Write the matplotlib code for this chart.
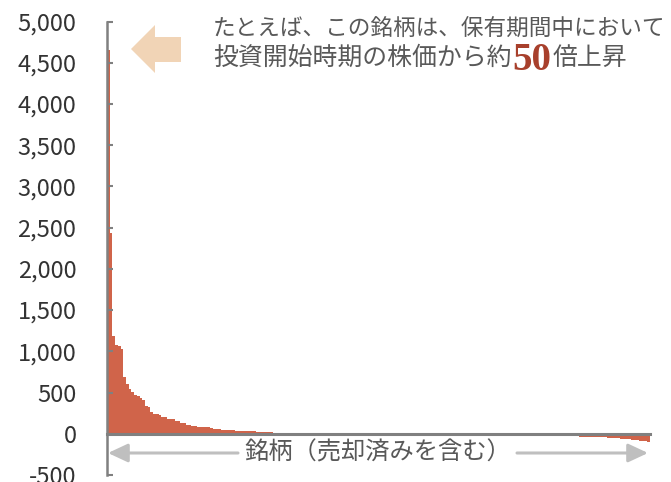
import matplotlib
matplotlib.use("Agg")
import matplotlib.pyplot as plt
from matplotlib.patches import Polygon

plt.rcParams['font.family'] = ['Noto Sans CJK JP', 'DejaVu Sans']

# return (%) of each stock since purchase, sorted from best to worst
returns = [
    4660, 2437, 1183, 1074, 1062, 1025, 690, 609, 548, 507,
    475, 462, 439, 407, 334, 330, 265, 245, 237, 232,
    204, 200, 184, 178, 174, 155, 152, 136, 133, 112,
    110, 92, 90, 88, 80, 79, 78, 77, 64, 63,
    62, 52, 51, 51, 50, 50, 40, 39, 39, 38,
    31, 30, 30, 29, 29, 23, 22, 22, 21, 21,
    16, 15, 15, 14, 14, 11, 10, 10, 9, 9,
    8, 8, 7, 7, 6, 6, 6, 6, 5, 5,
    5, 5, 5, 4, 4, 4, 4, 4, 4, 3,
    3, 3, 3, 3, 3, 3, 3, 3, 2, 2,
    2, 2, 2, 2, 2, 2, 2, 2, 2, 2,
    1, 1, 1, 1, 1, 1, 1, 1, 1, 1,
    1, 1, 1, 1, 1, 1, 1, 1, 1, 1,
    0, 0, 0, 0, 0, 0, 0, 0, 0, 0,
    0, 0, 0, 0, 0, 0, 0, 0, -1, -1,
    -1, -1, -2, -2, -2, -3, -3, -4, -4, -5,
    -5, -6, -7, -8, -9, -10, -12, -14, -16, -20,
    -24, -27, -30, -32, -34, -35, -36, -37, -38, -39,
    -40, -41, -42, -44, -46, -48, -50, -53, -56, -59,
    -62, -64, -67, -70, -74, -78, -82, -87, -93, -100,
]
ytick_values = [-500, 0, 500, 1000, 1500, 2000, 2500, 3000, 3500, 4000, 4500, 5000]
ytick_labels = ['-500', '0', '500', '1,000', '1,500', '2,000', '2,500',
                '3,000', '3,500', '4,000', '4,500', '5,000']
note_line1 = 'たとえば、この銘柄は、保有期間中において'
note_line2 = '投資開始時期の株価から約'
note_times = '50'
note_tail = '倍上昇'
xlabel = '銘柄（売却済みを含む）'

W, H = 671, 482
fig = plt.figure(figsize=(W / 100, H / 100), dpi=100)
ax = fig.add_axes([107 / W, 7 / H, 543 / W, 453.5 / H])

bar_color = '#D0644A'
axis_gray = '#808080'
text_gray = '#595959'

ax.bar(range(len(returns)), returns, width=1.0, color=bar_color, linewidth=0, zorder=1)
ax.set_xlim(-0.5, len(returns) - 0.5)
ax.set_ylim(-500, 5000)

ax.set_yticks(ytick_values)
ax.set_yticklabels(ytick_labels)
ax.tick_params(axis='y', direction='in', length=4, width=1.5, color=axis_gray,
               labelcolor='#333333', labelsize=17, pad=22)
ax.tick_params(axis='x', bottom=False, labelbottom=False)

for side in ['top', 'right']:
    ax.spines[side].set_visible(False)
ax.spines['left'].set_color(axis_gray)
ax.spines['left'].set_linewidth(1.8)
ax.spines['bottom'].set_position(('data', 0))
ax.spines['bottom'].set_color(axis_gray)
ax.spines['bottom'].set_linewidth(2.2)
ax.spines['bottom'].set_zorder(3)

# peach arrow pointing at the top bar
arrow_px = [(131, 49), (155, 25), (155, 37), (181, 37), (181, 62), (155, 62), (155, 73)]
arrow = Polygon([(x / W, 1 - y / H) for x, y in arrow_px], closed=True,
                transform=fig.transFigure, facecolor='#F1D4B6', edgecolor='none')
fig.patches.append(arrow)

fig.text(213 / W, 1 - 28 / H, note_line1, fontsize=16.3, color=text_gray, va='center', ha='left')
t2 = fig.text(213 / W, 1 - 58 / H, note_line2, fontsize=17.9, color=text_gray,
              va='center', ha='left')
fig.canvas.draw()
x_end = t2.get_window_extent().x1
t3 = fig.text((x_end + 1) / W, 1 - 70 / H, note_times, fontsize=28, color='#A8402C',
              fontweight='bold', family='Liberation Serif', va='baseline', ha='left')
fig.canvas.draw()
x_end = t3.get_window_extent().x1
fig.text((x_end + 1) / W, 1 - 58 / H, note_tail, fontsize=17.9, color=text_gray,
         va='center', ha='left')

# double arrow under the axis with the label in the middle
arrow_y = H - 453
arrow_props = dict(arrowstyle='-|>,head_length=0.6,head_width=0.28', color='#BFBFBF',
                   lw=2.2, mutation_scale=20, shrinkA=0, shrinkB=0)
ax.annotate('', xy=(108, arrow_y), xytext=(238, arrow_y), xycoords='figure pixels',
            textcoords='figure pixels', arrowprops=arrow_props)
ax.annotate('', xy=(648, arrow_y), xytext=(517, arrow_y), xycoords='figure pixels',
            textcoords='figure pixels', arrowprops=arrow_props)
fig.text(378 / W, arrow_y / H, xlabel, fontsize=17.5, color=text_gray, va='center', ha='center')

fig.savefig('out.png', dpi=100)
